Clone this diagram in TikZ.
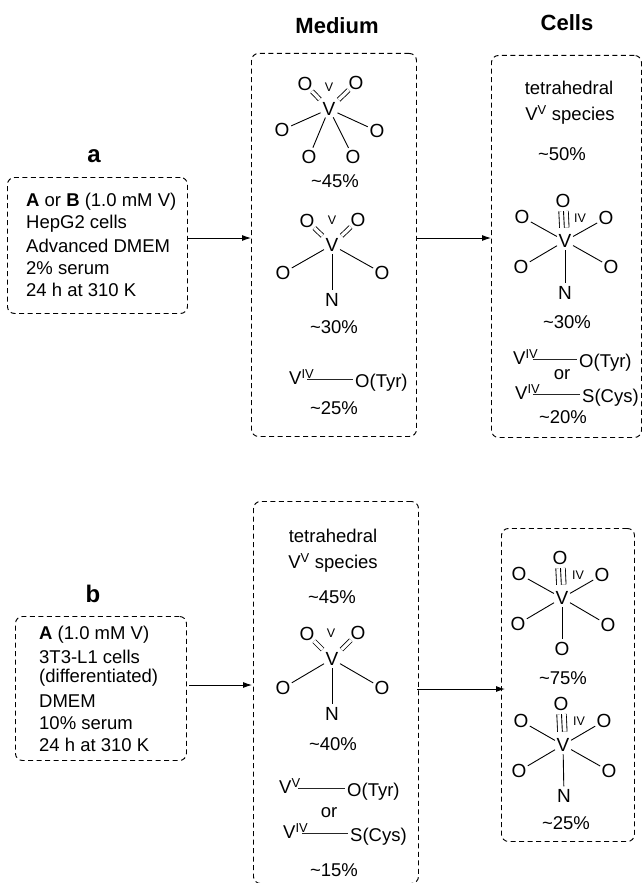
\documentclass[tikz,border=0pt]{standalone}
\usepackage{fontspec}
\setmainfont{Liberation Sans}
\usetikzlibrary{arrows.meta}
\tikzset{
  dbox/.style={draw,line width=0.95pt,dash pattern=on 5pt off 3.5pt,rounded corners=7pt,inner sep=0pt,anchor=north west},
  atm/.style={circle,inner sep=0pt,minimum size=18pt,font=\fontsize{19}{19}\selectfont},
  ctr/.style={circle,inner sep=0pt,minimum size=15pt,font=\fontsize{19}{19}\selectfont},
  small/.style={inner sep=0pt,font=\fontsize{12.5}{12.5}\selectfont},
  txt/.style={inner sep=0pt,font=\fontsize{18.5}{18.5}\selectfont},
  lefttxt/.style={inner sep=0pt,anchor=west,font=\fontsize{18.5}{18.5}\selectfont},
  linktxt/.style={inner sep=2pt,anchor=base west,font=\fontsize{18.5}{18.5}\selectfont},
  head/.style={inner sep=0pt,font=\fontsize{22}{22}\selectfont\bfseries},
  lett/.style={inner sep=0pt,font=\fontsize{24}{24}\selectfont\bfseries},
  bnd/.style={line width=0.9pt},
  dbl/.style={double,double distance=3.2pt,line width=0.85pt,shorten <=4pt},
  tpl/.style={double,double distance=8.6pt,line width=0.85pt,shorten >=4pt},
  arr/.style={line width=0.9pt,-{Latex[length=9pt,width=6pt]}},
  linker/.style={line width=1pt,draw=black!85}
}
\newcommand{\sgl}[2]{\draw[bnd] (#1) -- (#2);}
\newcommand{\dbn}[2]{\draw[dbl] (#1) -- (#2);}
\newcommand{\trp}[2]{\draw[tpl] (#1) -- (#2); \draw[bnd,shorten >=4pt] (#1) -- (#2);}
% from a V^x label (#1) to the text after it (#2), starting #3 right of its base
\newcommand{\lnk}[3]{\coordinate (#1s) at ([shift={(#3,-5.5)}]#1.base west);
  \draw[linker] (#1s) -- (#2.west |- #1s);}
\begin{document}
\begin{tikzpicture}[x=1pt,y=-1pt]
\useasboundingbox (0,0) rectangle (644,883);
\clip (0,0) rectangle (644,883);
\fill[white] (0,0) rectangle (644,883);

% headers
\node[head] (hm) at (337,26) {Medium};
\node[head] (hc) at (567,23) {Cells};
\node[lett] (la) at (94,156) {a};
\node[lett] (lb) at (93,594) {b};

% boxes
\node[dbox,minimum width=180pt,minimum height=136pt] (boxA) at (7,177) {};
\node[dbox,minimum width=165pt,minimum height=383pt] (medA) at (251,53) {};
\node[dbox,minimum width=150pt,minimum height=382pt] (celA) at (491,55) {};
\node[dbox,minimum width=171pt,minimum height=144pt] (boxB) at (15,616) {};
\node[dbox,minimum width=165pt,minimum height=382pt] (medB) at (253,501) {};
\node[dbox,minimum width=133pt,minimum height=313pt] (celB) at (501,528) {};

% left texts
\node[lefttxt] (a1) at (26,202) {\textbf{A} or \textbf{B} (1.0 mM V)};
\node[lefttxt] (a2) at (26,224) {HepG2 cells};
\node[lefttxt] (a3) at (26,246) {Advanced DMEM};
\node[lefttxt] (a4) at (26,268) {2\% serum};
\node[lefttxt] (a5) at (26,290) {24 h at 310 K};
\node[lefttxt] (b1) at (39,635) {\textbf{A} (1.0 mM V)};
\node[lefttxt] (b2) at (39,657) {3T3-L1 cells};
\node[lefttxt] (b3) at (39,678) {(differentiated)};
\node[lefttxt] (b4) at (39,701) {DMEM};
\node[lefttxt] (b5) at (39,723) {10\% serum};
\node[lefttxt] (b6) at (39,745) {24 h at 310 K};

% arrows
\coordinate (ea1) at (188,238);
\coordinate (ea2) at (251,238);
\coordinate (ea3) at (416,238);
\coordinate (ea4) at (491,238);
\coordinate (eb1) at (189,685);
\coordinate (eb2) at (252,685);
\coordinate (eb3) at (417,689);
\coordinate (eb4) at (505,689);
\draw[arr] (ea1) -- (ea2);
\draw[arr] (ea3) -- (ea4);
\draw[arr] (eb1) -- (eb2);
\draw[arr] (eb3) -- (eb4);

% Medium a, molecule 1
\node[ctr] (m1V) at (329,109) {V};
\node[atm] (m1a) at (305,84) {O};
\node[atm] (m1b) at (356,83) {O};
\node[atm] (m1c) at (282,130) {O};
\node[atm] (m1d) at (377,131) {O};
\node[atm] (m1e) at (309,157) {O};
\node[atm] (m1f) at (353,157) {O};
\node[small] (m1s) at (329,87) {V};
\dbn{m1V}{m1a}\dbn{m1V}{m1b}\sgl{m1V}{m1c}\sgl{m1V}{m1d}\sgl{m1V}{m1e}\sgl{m1V}{m1f}
\node[txt] (m1p) at (335,181) {\textasciitilde45\%};

% Medium a, molecule 2
\node[ctr] (m2V) at (332,245) {V};
\node[atm] (m2a) at (307,221) {O};
\node[atm] (m2b) at (358,220) {O};
\node[atm] (m2c) at (283,273) {O};
\node[atm] (m2d) at (382,273) {O};
\node[atm] (m2n) at (332,300) {N};
\node[small] (m2s) at (332,220) {V};
\dbn{m2V}{m2a}\dbn{m2V}{m2b}\sgl{m2V}{m2c}\sgl{m2V}{m2d}\sgl{m2V}{m2n}
\node[txt] (m2p) at (334,327) {\textasciitilde30\%};

% Medium a, linkage
\node[linktxt] (m3V) at (287,384.5) {V\textsuperscript{IV}};
\node[linktxt] (m3O) at (353,387) {O(Tyr)};
\lnk{m3V}{m3O}{20}
\node[txt] (m3p) at (334,408) {\textasciitilde25\%};

% Cells a
\node[txt] (c0a) at (569,88) {tetrahedral};
\node[txt] (c0b) at (570,115) {V\textsuperscript{V} species};
\node[txt] (c0p) at (562,154) {\textasciitilde50\%};
\node[ctr] (c1V) at (565,241) {V};
\node[atm] (c1t) at (563,201) {O};
\node[atm] (c1a) at (522,217) {O};
\node[atm] (c1b) at (606,218) {O};
\node[atm] (c1c) at (521,267) {O};
\node[atm] (c1d) at (611,267) {O};
\node[atm] (c1n) at (565,293) {N};
\node[small] (c1s) at (580,218) {IV};
\trp{c1t}{c1V}\sgl{c1V}{c1a}\sgl{c1V}{c1b}\sgl{c1V}{c1c}\sgl{c1V}{c1d}\sgl{c1V}{c1n}
\node[txt] (c1p) at (567,322) {\textasciitilde30\%};
\node[linktxt] (c2V) at (511,364.5) {V\textsuperscript{IV}};
\node[linktxt] (c2O) at (577,367.5) {O(Tyr)};
\lnk{c2V}{c2O}{22}
\node[txt] (c2o) at (562,375) {or};
\node[linktxt] (c3V) at (513,399.5) {V\textsuperscript{IV}};
\node[linktxt] (c3S) at (580,402.5) {S(Cys)};
\lnk{c3V}{c3S}{20}
\node[txt] (c3p) at (563,417) {\textasciitilde20\%};

% Medium b
\node[txt] (n0a) at (333,536) {tetrahedral};
\node[txt] (n0b) at (333,563) {V\textsuperscript{V} species};
\node[txt] (n0p) at (332,597) {\textasciitilde45\%};
\node[ctr] (n1V) at (332,659) {V};
\node[atm] (n1a) at (307,634) {O};
\node[atm] (n1b) at (358,633) {O};
\node[atm] (n1c) at (283,688) {O};
\node[atm] (n1d) at (382,688) {O};
\node[atm] (n1n) at (332,714) {N};
\node[small] (n1s) at (331,633) {V};
\dbn{n1V}{n1a}\dbn{n1V}{n1b}\sgl{n1V}{n1c}\sgl{n1V}{n1d}\sgl{n1V}{n1n}
\node[txt] (n1p) at (333,744) {\textasciitilde40\%};
\node[linktxt] (n2V) at (277,793.5) {V\textsuperscript{V}};
\node[linktxt] (n2O) at (345,796.5) {O(Tyr)};
\lnk{n2V}{n2O}{21}
\node[txt] (n2o) at (329,813) {or};
\node[linktxt] (n3V) at (281,838.5) {V\textsuperscript{IV}};
\node[linktxt] (n3S) at (348,841.5) {S(Cys)};
\lnk{n3V}{n3S}{21}
\node[txt] (n3p) at (334,870) {\textasciitilde15\%};

% Cells b, molecule 1
\node[ctr] (d1V) at (562,598) {V};
\node[atm] (d1t) at (560,558) {O};
\node[atm] (d1a) at (519,574) {O};
\node[atm] (d1b) at (602,575) {O};
\node[atm] (d1c) at (518,624) {O};
\node[atm] (d1d) at (608,625) {O};
\node[atm] (d1e) at (562,649) {O};
\node[small] (d1s) at (578,575) {IV};
\trp{d1t}{d1V}\sgl{d1V}{d1a}\sgl{d1V}{d1b}\sgl{d1V}{d1c}\sgl{d1V}{d1d}\sgl{d1V}{d1e}
\node[txt] (d1p) at (563,678) {\textasciitilde75\%};

% Cells b, molecule 2
\node[ctr] (d2V) at (563,745) {V};
\node[atm] (d2t) at (561,704) {O};
\node[atm] (d2a) at (521,721) {O};
\node[atm] (d2b) at (604,721) {O};
\node[atm] (d2c) at (519,771) {O};
\node[atm] (d2d) at (609,771) {O};
\node[atm] (d2n) at (564,796) {N};
\node[small] (d2s) at (579,721) {IV};
\trp{d2t}{d2V}\sgl{d2V}{d2a}\sgl{d2V}{d2b}\sgl{d2V}{d2c}\sgl{d2V}{d2d}\sgl{d2V}{d2n}
\node[txt] (d2p) at (566,823) {\textasciitilde25\%};
\end{tikzpicture}
\end{document}
